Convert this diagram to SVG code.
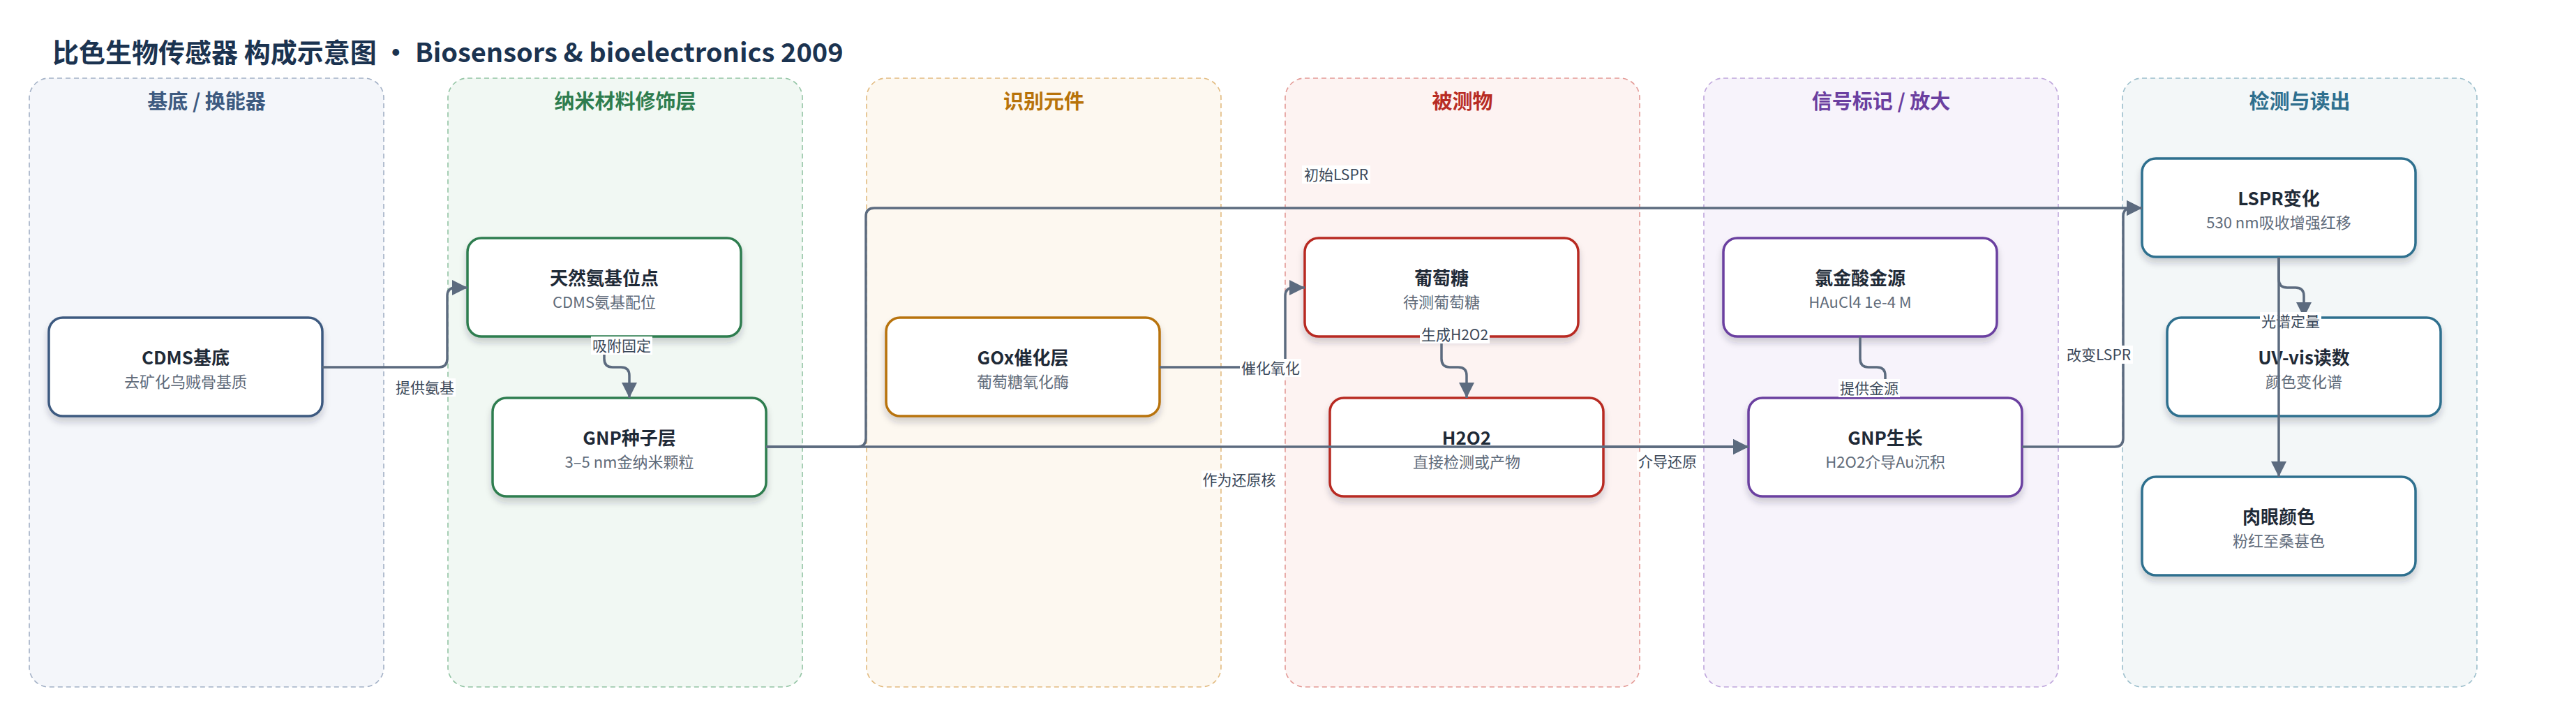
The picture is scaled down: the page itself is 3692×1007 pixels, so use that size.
<svg xmlns="http://www.w3.org/2000/svg" width="3692" height="1007" viewBox="0 0 3692 1007">
<style>
text{font-family:"Noto Sans CJK SC","Noto Sans",sans-serif}
.ttl{font-size:38px;font-weight:700;fill:#1b3350}
.lane{stroke-width:1.6;stroke-dasharray:7 5}
.lt{font-size:29px;font-weight:700;text-anchor:middle}
.box{fill:#fff;stroke-width:3.5;filter:url(#sh)}
.nt{font-size:26px;font-weight:700;fill:#1f2a37;text-anchor:middle}
.ns{font-size:22px;fill:#5f6b7a;text-anchor:middle}
.c{fill:none;stroke:#5c6b7f;stroke-width:3.5;marker-end:url(#ah)}
.lb{fill:#fff}
.lx{font-size:21px;fill:#3b4859;text-anchor:middle}
</style>
<defs>
<filter id="sh" x="-10%" y="-10%" width="120%" height="140%">
<feDropShadow dx="0" dy="7" stdDeviation="5" flood-color="#1f2a37" flood-opacity="0.2"/>
</filter>
<marker id="ah" markerUnits="userSpaceOnUse" markerWidth="22" markerHeight="22" viewBox="0 0 20 20" refX="20" refY="10" orient="auto">
<path d="M0,0 L20,10 L0,20 Z" fill="#5c6b7f"/>
</marker>
</defs>
<rect width="3692" height="1007" fill="#fff"/>
<text class="ttl" x="75" y="89">比色生物传感器 构成示意图 · Biosensors &amp; bioelectronics 2009</text>

<g id="lanes">
<rect class="lane" x="42" y="112" width="508" height="872" rx="28" fill="#f4f6fa" stroke="#a3b1c6"/>
<rect class="lane" x="642" y="112" width="508" height="872" rx="28" fill="#f1f8f3" stroke="#93c4a4"/>
<rect class="lane" x="1242" y="112" width="508" height="872" rx="28" fill="#fdf8f0" stroke="#e2bb80"/>
<rect class="lane" x="1842" y="112" width="508" height="872" rx="28" fill="#fdf3f2" stroke="#e39a96"/>
<rect class="lane" x="2442" y="112" width="508" height="872" rx="28" fill="#f7f3fb" stroke="#bfa6dc"/>
<rect class="lane" x="3042" y="112" width="508" height="872" rx="28" fill="#f3f7f8" stroke="#9cbfcc"/>
<text class="lt" x="296" y="156" fill="#3d5a80">基底 / 换能器</text>
<text class="lt" x="896" y="156" fill="#2e7d4f">纳米材料修饰层</text>
<text class="lt" x="1496" y="156" fill="#b8730a">识别元件</text>
<text class="lt" x="2096" y="156" fill="#b82c24">被测物</text>
<text class="lt" x="2696" y="156" fill="#6b3fa0">信号标记 / 放大</text>
<text class="lt" x="3296" y="156" fill="#2e6f8e">检测与读出</text>
</g>

<g id="node-cdms"><rect class="box" x="70" y="455" width="392" height="141" rx="20" stroke="#3d5a80"/>
<text class="nt" x="266" y="522">CDMS基底</text><text class="ns" x="266" y="555">去矿化乌贼骨基质</text></g>
<g id="node-amino"><rect class="box" x="670" y="341" width="392" height="141" rx="20" stroke="#2e7d4f"/>
<text class="nt" x="866" y="408">天然氨基位点</text><text class="ns" x="866" y="441">CDMS氨基配位</text></g>
<g id="node-seed"><rect class="box" x="706" y="570" width="392" height="141" rx="20" stroke="#2e7d4f"/>
<text class="nt" x="902" y="637">GNP种子层</text><text class="ns" x="902" y="670">3–5 nm金纳米颗粒</text></g>
<g id="node-gox"><rect class="box" x="1270" y="455" width="392" height="141" rx="20" stroke="#b8730a"/>
<text class="nt" x="1466" y="522">GOx催化层</text><text class="ns" x="1466" y="555">葡萄糖氧化酶</text></g>
<g id="node-glucose"><rect class="box" x="1870" y="341" width="392" height="141" rx="20" stroke="#b82c24"/>
<text class="nt" x="2066" y="408">葡萄糖</text><text class="ns" x="2066" y="441">待测葡萄糖</text></g>
<g id="node-h2o2"><rect class="box" x="1906" y="570" width="392" height="141" rx="20" stroke="#b82c24"/>
<text class="nt" x="2102" y="637">H2O2</text><text class="ns" x="2102" y="670">直接检测或产物</text></g>
<g id="node-haucl4"><rect class="box" x="2470" y="341" width="392" height="141" rx="20" stroke="#6b3fa0"/>
<text class="nt" x="2666" y="408">氯金酸金源</text><text class="ns" x="2666" y="441">HAuCl4 1e-4 M</text></g>
<g id="node-growth"><rect class="box" x="2506" y="570" width="392" height="141" rx="20" stroke="#6b3fa0"/>
<text class="nt" x="2702" y="637">GNP生长</text><text class="ns" x="2702" y="670">H2O2介导Au沉积</text></g>
<g id="node-lspr"><rect class="box" x="3070" y="227" width="392" height="141" rx="20" stroke="#2e6f8e"/>
<text class="nt" x="3266" y="294">LSPR变化</text><text class="ns" x="3266" y="327">530 nm吸收增强红移</text></g>
<g id="node-uvvis"><rect class="box" x="3106" y="455" width="392" height="141" rx="20" stroke="#2e6f8e"/>
<text class="nt" x="3302" y="522">UV-vis读数</text><text class="ns" x="3302" y="555">颜色变化谱</text></g>
<g id="node-eye"><rect class="box" x="3070" y="683" width="392" height="141" rx="20" stroke="#2e6f8e"/>
<text class="nt" x="3266" y="750">肉眼颜色</text><text class="ns" x="3266" y="783">粉红至桑葚色</text></g>

<g id="connectors">
<path class="c" d="M462,526 H629 Q641,526 641,514 V424 Q641,412 653,412 H670"/>
<rect class="lb" x="565" y="542" width="88" height="26"/><text class="lx" x="609" y="563">提供氨基</text>
<path class="c" d="M866,482 V514 Q866,526 878,526 H890 Q902,526 902,538 V570"/>
<rect class="lb" x="847" y="482" width="88" height="26"/><text class="lx" x="891" y="503">吸附固定</text>
<path class="c" d="M1098,640 H1229 Q1241,640 1241,628 V310 Q1241,298 1253,298 H3070"/>
<rect class="lb" x="1866" y="237" width="98" height="26"/><text class="lx" x="1915" y="258">初始LSPR</text>
<path class="c" d="M1098,640 H2506"/>
<rect class="lb" x="1722" y="674" width="108" height="26"/><text class="lx" x="1776" y="695">作为还原核</text>
<path class="c" d="M1662,526 H1830 Q1842,526 1842,514 V424 Q1842,412 1854,412 H1870"/>
<rect class="lb" x="1777" y="514" width="88" height="26"/><text class="lx" x="1821" y="535">催化氧化</text>
<path class="c" d="M2066,482 V514 Q2066,526 2078,526 H2090 Q2102,526 2102,538 V570"/>
<rect class="lb" x="2035" y="466" width="100" height="26"/><text class="lx" x="2085" y="487">生成H2O2</text>
<path class="c" d="M2298,640 H2506"/>
<rect class="lb" x="2346" y="648" width="88" height="26"/><text class="lx" x="2390" y="669">介导还原</text>
<path class="c" d="M2666,482 V514 Q2666,526 2678,526 H2690 Q2702,526 2702,538 V570"/>
<rect class="lb" x="2635" y="543" width="88" height="26"/><text class="lx" x="2679" y="564">提供金源</text>
<path class="c" d="M2898,640 H3031 Q3043,640 3043,628 V310 Q3043,298 3055,298 H3070"/>
<rect class="lb" x="2959" y="495" width="98" height="26"/><text class="lx" x="3008" y="516">改变LSPR</text>
<path class="c" d="M3266,368 V400 Q3266,412 3278,412 H3290 Q3302,412 3302,424 V455"/>
<rect class="lb" x="3239" y="447" width="88" height="26"/><text class="lx" x="3283" y="468">光谱定量</text>
<path class="c" d="M3266,368 V683"/>
</g>
</svg>
